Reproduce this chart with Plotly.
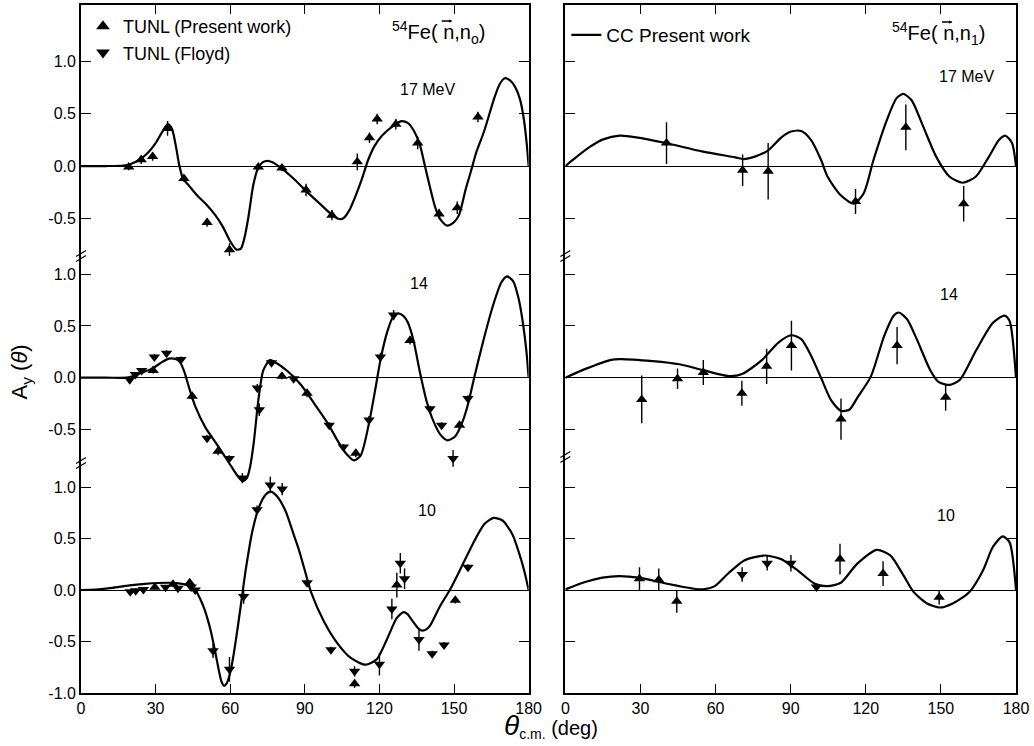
import plotly.graph_objects as go

# ---------------- 54Fe(n,n0) ----------------
# 17 MeV, TUNL present work
th17_n0 = [19.2, 24.2, 28.8, 34.8, 41.4, 50.7, 59.7, 71.3, 80.8, 90.5, 100.9,
           111.1, 116.0, 119.1, 126.6, 135.4, 144.0, 151.3, 159.6]
ay17_n0 = [-0.01, 0.06, 0.09, 0.36, -0.12, -0.54, -0.80, -0.01, -0.02, -0.23, -0.47,
           0.04, 0.27, 0.45, 0.40, 0.22, -0.46, -0.40, 0.47]
er17_n0 = [0.03, 0.04, 0.04, 0.07, 0.03, 0.04, 0.06, 0.03, 0.03, 0.06, 0.05,
           0.08, 0.05, 0.05, 0.05, 0.06, 0.05, 0.06, 0.05]
cc17_n0_th = [0, 10, 17, 20, 23.5, 27, 30, 32.5, 34.8, 36.5, 38, 39.5, 41, 43.5, 47,
              50.5, 54, 57, 60, 62.5, 64.3, 65.8, 67.3, 69.3, 71.2, 73, 75, 77, 80,
              85, 91, 96, 100.6, 103.5, 105.5, 108, 110.5, 113, 115.5, 118, 121, 125,
              128.8, 131.5, 134, 136.3, 138.3, 140.3, 142.5, 144.8, 147.3, 149.7, 152,
              154.7, 156.8, 158.8, 162.2, 166.3, 168.5, 170.4, 172.5, 174.5, 176.5,
              178, 179.2, 180]
cc17_n0_ay = [0.0, 0.0, 0.005, 0.02, 0.06, 0.13, 0.22, 0.32, 0.40, 0.36, 0.21, 0.01,
              -0.12, -0.19, -0.29, -0.37, -0.47, -0.58, -0.72, -0.80, -0.79, -0.68,
              -0.49, -0.18, -0.02, 0.035, 0.05, 0.035, -0.01, -0.11, -0.25, -0.36,
              -0.46, -0.505, -0.50, -0.42, -0.28, -0.12, 0.06, 0.19, 0.29, 0.375,
              0.43, 0.41, 0.33, 0.20, 0.0, -0.20, -0.40, -0.52, -0.57, -0.545, -0.47,
              -0.22, -0.05, 0.12, 0.34, 0.66, 0.79, 0.84, 0.82, 0.76, 0.64, 0.46,
              0.22, 0.0]

# 14 MeV
th14_n0_tunl = [29.0, 44.7, 55.1, 80.8, 90.9, 110.5, 132.3, 152.2]
ay14_n0_tunl = [0.07, -0.18, -0.71, 0.015, -0.15, -0.73, 0.36, -0.46]
er14_n0_tunl = [0.03, 0.03, 0.04, 0.03, 0.04, 0.04, 0.04, 0.04]
th14_n0_floyd = [19.6, 21.9, 24.4, 29.5, 34.4, 40.2, 50.7, 59.6, 64.9, 70.9, 71.7,
                 76.6, 85.5, 99.8, 105.5, 115.8, 120.4, 125.7, 140.3, 145.0, 149.6,
                 155.6]
ay14_n0_floyd = [-0.02, 0.03, 0.07, 0.20, 0.235, 0.175, -0.585, -0.78, -0.97, -0.10,
                 -0.31, 0.145, -0.01, -0.46, -0.67, -0.41, 0.20, 0.605, -0.30, -0.46,
                 -0.78, -0.20]
er14_n0_floyd = [0.02, 0.02, 0.02, 0.03, 0.03, 0.03, 0.03, 0.03, 0.05, 0.04, 0.06,
                 0.03, 0.03, 0.03, 0.03, 0.04, 0.04, 0.05, 0.03, 0.03, 0.08, 0.03]
cc14_n0_th = [0, 10, 18.5, 21, 23.5, 28.8, 32.5, 35.4, 38, 39.8, 41.5, 43.5, 46, 50,
              55.4, 60.5, 63.3, 65, 66.7, 68, 69.5, 71.3, 73.3, 75.9, 78, 83.2, 88.5,
              93.8, 99.2, 103.2, 106.5, 109.8, 112.5, 115.8, 118.5, 120.4, 123.1,
              125.5, 127.5, 129.5, 131.3, 133.7, 136.3, 139, 141.7, 144.5, 147.4,
              150.5, 153.5, 155.8, 158, 161.7, 165.7, 169, 171.3, 173.8, 176, 177.5,
              179, 180]
cc14_n0_ay = [0.0, 0.0, 0.0, 0.015, 0.04, 0.09, 0.15, 0.185, 0.18, 0.15, 0.06, -0.10,
              -0.28, -0.48, -0.67, -0.86, -0.96, -1.0, -0.97, -0.86, -0.62, -0.22,
              0.07, 0.17, 0.15, 0.06, -0.07, -0.25, -0.44, -0.61, -0.73, -0.80, -0.75,
              -0.44, -0.09, 0.17, 0.44, 0.59, 0.62, 0.60, 0.54, 0.36, 0.05, -0.23,
              -0.42, -0.55, -0.605, -0.565, -0.42, -0.24, -0.01, 0.35, 0.70, 0.92,
              0.98, 0.93, 0.76, 0.56, 0.28, 0.0]

# 10 MeV
th10_n0_tunl = [29.7, 37.0, 43.7, 110.0, 127.0, 150.5]
ay10_n0_tunl = [0.026, 0.057, 0.07, -0.91, 0.048, -0.10]
er10_n0_tunl = [0.02, 0.02, 0.03, 0.04, 0.12, 0.03]
th10_n0_floyd = [19.8, 22.0, 25.1, 34.0, 39.0, 44.3, 45.9, 53.1, 59.7, 65.4, 70.8,
                 76.1, 80.9, 90.9, 100.5, 110.0, 120.0, 125.0, 128.4, 130.1, 135.9,
                 141.2, 146.0, 155.6]
ay10_n0_floyd = [-0.016, -0.006, 0.006, 0.026, 0.016, 0.03, 0.0, -0.59, -0.77,
                 -0.064, 0.78, 1.02, 0.98, 0.07, -0.58, -0.79, -0.72, -0.185, 0.26,
                 0.11, -0.48, -0.62, -0.535, 0.22]
er10_n0_floyd = [0.02, 0.02, 0.02, 0.02, 0.02, 0.02, 0.02, 0.07, 0.12, 0.07, 0.04,
                 0.08, 0.06, 0.03, 0.03, 0.05, 0.11, 0.1, 0.1, 0.1, 0.11, 0.03, 0.03,
                 0.03]
cc10_n0_th = [0, 6, 12.5, 19.5, 25.8, 31, 36.4, 40, 43, 45, 46.5, 48, 49.7, 51, 52.3,
              54.3, 55.5, 56.5, 57.5, 58.5, 59.6, 61, 62.5, 64.2, 66.2, 68.9, 71.5,
              74.2, 76.2, 78.8, 82.2, 85.5, 87.5, 90, 92.5, 97.8, 103.2, 108.5, 114.4,
              119, 123, 127, 129.7, 131.3, 133, 135.5, 137.2, 139, 140.5, 144.3, 148.3,
              152.3, 157.6, 162.2, 165.9, 169.5, 173.5, 176, 178.2, 180]
cc10_n0_ay = [0.0, 0.005, 0.02, 0.045, 0.06, 0.068, 0.07, 0.062, 0.045, 0.02, -0.02,
              -0.09, -0.19, -0.29, -0.41, -0.64, -0.79, -0.89, -0.93, -0.91, -0.84,
              -0.68, -0.45, -0.16, 0.19, 0.57, 0.80, 0.925, 0.955, 0.91, 0.77, 0.54,
              0.40, 0.19, -0.02, -0.31, -0.52, -0.66, -0.725, -0.67, -0.48, -0.27,
              -0.215, -0.235, -0.29, -0.37, -0.395, -0.38, -0.34, -0.16, 0.0, 0.19,
              0.45, 0.64, 0.70, 0.675, 0.54, 0.37, 0.19, 0.0]

# ---------------- 54Fe(n,n1) ----------------
th17_n1 = [40.4, 70.8, 81.0, 115.9, 136.0, 159.1]
ay17_n1 = [0.22, -0.04, -0.05, -0.34, 0.37, -0.36]
er17_n1 = [0.20, 0.15, 0.27, 0.12, 0.22, 0.17]
cc17_n1_th = [0, 4.6, 9.9, 15.1, 21.7, 28.3, 40.2, 54.6, 67.8, 71.1, 75.7, 81, 86.3,
              90.2, 94.2, 98.1, 102.1, 104.7, 110, 115.2, 119.2, 123.1, 128.4, 132.3,
              135, 138.3, 142.9, 148.1, 153.4, 158.7, 164, 169.2, 173.2, 175.8, 178.4,
              180]
cc17_n1_ay = [0.0, 0.09, 0.185, 0.255, 0.29, 0.275, 0.22, 0.14, 0.083, 0.067, 0.09,
              0.15, 0.275, 0.33, 0.335, 0.25, 0.06, -0.10, -0.28, -0.36, -0.26, 0.06,
              0.44, 0.65, 0.69, 0.63, 0.38, 0.09, -0.10, -0.16, -0.10, 0.09, 0.25,
              0.29, 0.22, 0.0]

th14_n1 = [30.5, 44.8, 55.1, 70.5, 80.4, 90.3, 110.1, 132.5, 151.9]
ay14_n1 = [-0.21, -0.01, 0.05, -0.15, 0.11, 0.31, -0.40, 0.31, -0.19]
er14_n1 = [0.23, 0.10, 0.12, 0.12, 0.17, 0.24, 0.20, 0.18, 0.13]
cc14_n1_th = [0, 8.6, 17.8, 21.8, 34.9, 45.5, 54.7, 65.3, 70.6, 78.5, 85.1, 90.3, 94.3,
              98.2, 102.2, 106.2, 110.1, 113.4, 116.7, 122, 127.3, 131.2, 133.2, 136.5,
              140.4, 145.7, 149, 153.6, 157.6, 164.2, 170.8, 175.4, 177.4, 180]
cc14_n1_ay = [0.0, 0.09, 0.17, 0.18, 0.16, 0.13, 0.075, 0.016, 0.036, 0.17, 0.34,
              0.41, 0.37, 0.21, -0.006, -0.22, -0.32, -0.31, -0.19, 0.01, 0.40, 0.60,
              0.63, 0.565, 0.37, 0.075, -0.04, -0.07, -0.02, 0.27, 0.53, 0.60, 0.55,
              0.0]

th10_n1_tunl = [29.6, 37.3, 44.5, 109.7, 126.9, 149.3]
ay10_n1_tunl = [0.11, 0.10, -0.11, 0.30, 0.16, -0.07]
er10_n1_tunl = [0.11, 0.11, 0.11, 0.15, 0.12, 0.07]
th10_n1_floyd = [70.6, 80.6, 90.1, 100.3]
ay10_n1_floyd = [0.15, 0.26, 0.26, 0.03]
er10_n1_floyd = [0.07, 0.07, 0.08, 0.03]
cc10_n1_th = [0, 8.2, 14.8, 21.4, 29.3, 41.2, 50.5, 55.1, 59.7, 65, 71.6, 79.6, 86.2,
              92.8, 99.4, 104.7, 110, 116.6, 124.5, 129.8, 135, 139, 144.3, 149.6,
              154.9, 161.5, 166.8, 170.8, 174.7, 177.4, 180]
cc10_n1_ay = [0.006, 0.08, 0.12, 0.135, 0.12, 0.058, 0.016, 0.006, 0.038, 0.16, 0.29,
              0.335, 0.30, 0.19, 0.064, 0.038, 0.07, 0.256, 0.39, 0.336, 0.144, -0.016,
              -0.128, -0.17, -0.128, -0.016, 0.19, 0.42, 0.52, 0.465, 0.0]

# tick values per panel (the broken axes only label what each panel spans)
y_ticks_full = [-1.0, -0.5, 0.0, 0.5, 1.0]
y_labels_full = ["-1.0", "-0.5", "0.0", "0.5", "1.0"]
y_ticks_upper = [-0.5, 0.0, 0.5, 1.0]
y_labels_upper = ["-0.5", "0.0", "0.5", "1.0"]
x_tickvals = [0, 30, 60, 90, 120, 150, 180]
x_ticktext = ["0", "30", "60", "90", "120", "150", "180"]

FONT = "Liberation Sans, Arial, Helvetica, sans-serif"
fig = go.Figure()


def curve(th, ay, xa, ya, show=False):
    fig.add_trace(go.Scatter(
        x=th, y=ay, mode="lines", xaxis=xa, yaxis=ya,
        line=dict(color="black", width=2.2, shape="spline", smoothing=0.7),
        name="CC Present work", legend="legend2", showlegend=show,
        hoverinfo="skip"))


def points(th, ay, err, symbol, name, xa, ya, show=False):
    fig.add_trace(go.Scatter(
        x=th, y=ay, mode="markers", xaxis=xa, yaxis=ya,
        marker=dict(symbol=symbol, size=10, color="black"),
        error_y=dict(type="data", array=err, visible=True, color="black",
                     thickness=1.4, width=0),
        name=name, legend="legend", showlegend=show, cliponaxis=False,
        hoverinfo="skip"))


UP, DOWN = "triangle-up", "triangle-down"
P_NAME, F_NAME = "TUNL (Present work)", "TUNL (Floyd)"

# left column: n0
curve(cc17_n0_th, cc17_n0_ay, "x2", "y3")
points(th17_n0, ay17_n0, er17_n0, UP, P_NAME, "x2", "y3", show=True)
curve(cc14_n0_th, cc14_n0_ay, "x", "y2")
points(th14_n0_floyd, ay14_n0_floyd, er14_n0_floyd, DOWN, F_NAME, "x", "y2", show=True)
points(th14_n0_tunl, ay14_n0_tunl, er14_n0_tunl, UP, P_NAME, "x", "y2")
curve(cc10_n0_th, cc10_n0_ay, "x", "y")
points(th10_n0_floyd, ay10_n0_floyd, er10_n0_floyd, DOWN, F_NAME, "x", "y")
points(th10_n0_tunl, ay10_n0_tunl, er10_n0_tunl, UP, P_NAME, "x", "y")

# right column: n1
curve(cc17_n1_th, cc17_n1_ay, "x4", "y6", show=True)
points(th17_n1, ay17_n1, er17_n1, UP, P_NAME, "x4", "y6")
curve(cc14_n1_th, cc14_n1_ay, "x3", "y5")
points(th14_n1, ay14_n1, er14_n1, UP, P_NAME, "x3", "y5")
curve(cc10_n1_th, cc10_n1_ay, "x3", "y4")
points(th10_n1_floyd, ay10_n1_floyd, er10_n1_floyd, DOWN, F_NAME, "x3", "y4")
points(th10_n1_tunl, ay10_n1_tunl, er10_n1_tunl, UP, P_NAME, "x3", "y4")

# page geometry (pixels) -> paper fractions
L, R, T, B = 81, 11, 5, 53
PW, PH = 1034 - L - R, 746 - T - B


def px(x):
    return (x - L) / PW


def py(y):
    return (746 - B - y) / PH


LEFT_DOM = [0.0, px(532)]
RIGHT_DOM = [px(569), 1.0]
TOP_DOM, MID_DOM, BOT_DOM = [py(256), 1.0], [py(500), py(256)], [0.0, py(462)]
TOP_RNG, MID_RNG, BOT_RNG = [-0.861, 1.541], [-1.182, 1.176], [-1.0, 1.243]

axis_common = dict(showline=True, linecolor="black", linewidth=1.7, ticks="inside",
                   tickcolor="black", tickwidth=1.4, showgrid=False)


def xaxis(dom, anchor, side="bottom", labels=True):
    return dict(axis_common, domain=dom, anchor=anchor, side=side, range=[0, 180],
                tickmode="array", tickvals=x_tickvals, ticktext=x_ticktext,
                ticklen=9, showticklabels=labels, zeroline=False,
                tickfont=dict(family=FONT, size=16, color="black"))


def yaxis(dom, rng, anchor, vals, text, labels=True):
    return dict(axis_common, domain=dom, range=rng, anchor=anchor, mirror="ticks",
                tickmode="array", tickvals=vals, ticktext=text,
                ticklen=10, showticklabels=labels, zeroline=True,
                zerolinecolor="black", zerolinewidth=1,
                tickfont=dict(family=FONT, size=16, color="black"))


fig.update_layout(
    width=1034, height=746,
    margin=dict(l=L, r=R, t=T, b=B),
    paper_bgcolor="white", plot_bgcolor="rgba(0,0,0,0)",
    font=dict(family=FONT, color="black"),
    xaxis=xaxis(LEFT_DOM, "y"),
    xaxis2=xaxis(LEFT_DOM, "y3", side="top", labels=False),
    xaxis3=xaxis(RIGHT_DOM, "y4"),
    xaxis4=xaxis(RIGHT_DOM, "y6", side="top", labels=False),
    yaxis=yaxis(BOT_DOM, BOT_RNG, "x", y_ticks_full, y_labels_full),
    yaxis2=yaxis(MID_DOM, MID_RNG, "x", y_ticks_upper, y_labels_upper),
    yaxis3=yaxis(TOP_DOM, TOP_RNG, "x", y_ticks_upper, y_labels_upper),
    yaxis4=yaxis(BOT_DOM, BOT_RNG, "x3", y_ticks_full, y_labels_full, labels=False),
    yaxis5=yaxis(MID_DOM, MID_RNG, "x3", y_ticks_upper, y_labels_upper, labels=False),
    yaxis6=yaxis(TOP_DOM, TOP_RNG, "x3", y_ticks_upper, y_labels_upper, labels=False),
    legend=dict(x=px(83), y=py(8), xanchor="left", yanchor="top",
                bgcolor="rgba(0,0,0,0)", font=dict(family=FONT, size=18),
                itemsizing="constant", tracegroupgap=0),
    legend2=dict(x=px(570), y=py(16), xanchor="left", yanchor="top",
                 bgcolor="rgba(0,0,0,0)", font=dict(family=FONT, size=19)),
    showlegend=True,
)

ann = []


def label(text, x, y, size=16, xanchor="center", **kw):
    ann.append(dict(text=text, x=px(x), y=py(y), xref="paper", yref="paper",
                    xanchor=xanchor, yanchor="middle", showarrow=False,
                    font=dict(family=FONT, size=size, color="black"), **kw))


def vector_arrow(x_tip, y):
    # small arrow drawn over the "n" of the reaction label
    ann.append(dict(text="", x=px(x_tip), y=py(y), xref="paper", yref="paper",
                    showarrow=True, ax=-12, ay=0, arrowhead=2, arrowsize=0.5,
                    arrowwidth=1.3, arrowcolor="black", standoff=0))


label("<sup>54</sup>Fe( n,n<sub>o</sub>)", 392, 33, size=20, xanchor="left")
vector_arrow(392 + 63, 21)
label("<sup>54</sup>Fe( n,n<sub>1</sub>)", 896, 34, size=20, xanchor="left")
vector_arrow(896 + 63, 22)
label("17 MeV", 430, 89)
label("17 MeV", 973, 77)
label("14", 422, 283)
label("14", 956, 294)
label("10", 430, 510)
label("10", 952, 515)
label("A<sub>y</sub> (<i>θ</i>)", 21, 372, size=22, textangle=-90)
label("<i><span style='font-size:28px'>θ</span></i><sub>c.m.</sub> (deg)", 555, 726,
      size=20)
fig.update_layout(annotations=ann)

# axis-break marks on the left edge of each column
shapes = []
for x0, ys in ((L, (256, 463)), (569, (256, 457))):
    for yb in ys:
        for dy in (-2.5, 2.5):
            shapes.append(dict(type="line", xref="paper", yref="paper",
                               x0=px(x0 - 5), y0=py(yb + dy + 3),
                               x1=px(x0 + 5), y1=py(yb + dy - 3),
                               line=dict(color="black", width=1.2)))
fig.update_layout(shapes=shapes)

fig.write_html("out.html")
